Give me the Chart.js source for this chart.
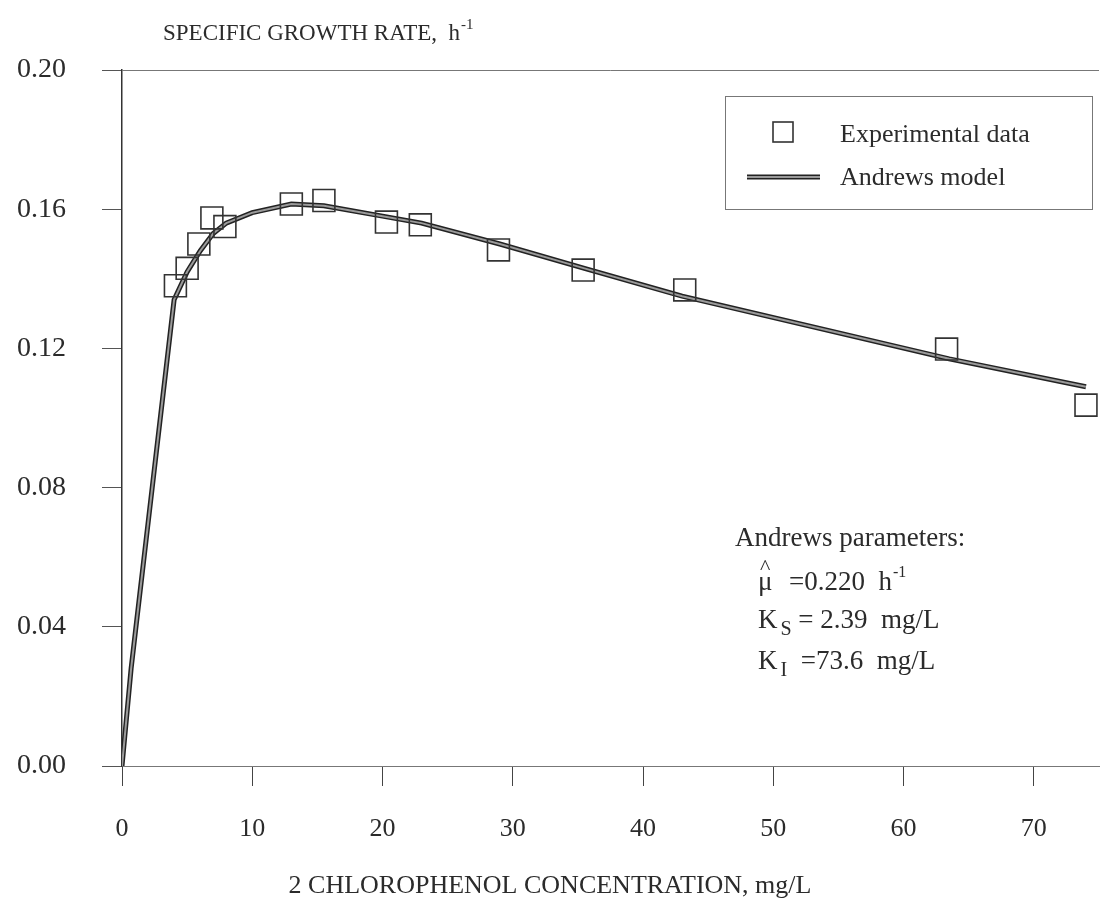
<!DOCTYPE html>
<html>
<head>
<meta charset="utf-8">
<title>Specific growth rate vs 2-chlorophenol</title>
<script src="https://cdn.jsdelivr.net/npm/chart.js@4"></script>
<style>
  html, body { margin: 0; padding: 0; background: #fff; overflow: hidden; }
  #wrap { width: 1101px; height: 908px; position: relative; }
  canvas { display: block; }
</style>
</head>
<body>
<div id="wrap"><canvas id="chart"></canvas></div>
<script>
// Experimental points
const expConc = [4.1, 5.0, 5.9, 6.9, 7.9, 13.0, 15.5, 20.3, 22.9, 28.9, 35.4, 43.2, 63.3, 74.0];
const expRate = [0.138, 0.143, 0.150, 0.1575, 0.155, 0.1615, 0.1625, 0.1563, 0.1555, 0.1483, 0.1425, 0.1368, 0.1198, 0.1037];

// Andrews model curve
const modelConc = [0, 0.7, 4.0, 5.0, 6.0, 7.0, 8.0, 10, 13, 15.5, 20, 23, 29, 35.5, 43, 63.5, 74];
const modelRate = [0, 0.028, 0.134, 0.142, 0.148, 0.153, 0.156, 0.159, 0.1615, 0.161, 0.158, 0.156, 0.150, 0.143, 0.135, 0.117, 0.109];

const xTicks = [0, 10, 20, 30, 40, 50, 60, 70];
const yTicks = [0, 0.04, 0.08, 0.12, 0.16, 0.20];

const paramLines = [
  { base: 'μ', sub: '', rest: '  =0.220  h', sup: '-1' },
  { base: 'K', sub: 'S', rest: ' = 2.39  mg/L', sup: '' },
  { base: 'K', sub: 'I', rest: '  =73.6  mg/L', sup: '' }
];

const SERIF = '"Liberation Serif", "DejaVu Serif", serif';
const INK = '#2b2b2b';

const toPoints = (xs, ys) => xs.map((x, i) => ({ x, y: ys[i] }));

// Draws the axis titles, legend box and parameter text
const annotations = {
  id: 'annotations',
  afterDraw(chart) {
    const ctx = chart.ctx;
    ctx.save();
    ctx.fillStyle = INK;
    ctx.textBaseline = 'alphabetic';

    // y axis title above the plot
    ctx.font = '23px ' + SERIF;
    ctx.textAlign = 'left';
    const title = 'SPECIFIC GROWTH RATE,  h';
    ctx.fillText(title, 163, 40);
    const tw = ctx.measureText(title).width;
    ctx.font = '15px ' + SERIF;
    ctx.fillText('-1', 163 + tw + 1, 29);

    // x axis title, centred on the page
    ctx.font = '26px ' + SERIF;
    ctx.textAlign = 'center';
    ctx.fillText('2 CHLOROPHENOL CONCENTRATION, mg/L', 550, 893);
    ctx.textAlign = 'left';

    // legend box
    const bx = 725, by = 96, bw = 367, bh = 113;
    ctx.strokeStyle = '#777';
    ctx.lineWidth = 1;
    ctx.strokeRect(bx + 0.5, by + 0.5, bw, bh);

    const sq = chart.data.datasets[0];
    ctx.strokeStyle = sq.pointBorderColor;
    ctx.lineWidth = sq.pointBorderWidth;
    ctx.strokeRect(773, 122, 20, 20);

    const m1 = chart.data.datasets[1], m2 = chart.data.datasets[2];
    ctx.lineCap = 'butt';
    ctx.beginPath(); ctx.moveTo(747, 177); ctx.lineTo(820, 177);
    ctx.strokeStyle = m1.borderColor; ctx.lineWidth = m1.borderWidth; ctx.stroke();
    ctx.beginPath(); ctx.moveTo(747, 177); ctx.lineTo(820, 177);
    ctx.strokeStyle = m2.borderColor; ctx.lineWidth = m2.borderWidth; ctx.stroke();

    ctx.font = '26px ' + SERIF;
    ctx.fillStyle = INK;
    ctx.fillText(sq.label, 840, 142);
    ctx.fillText(m1.label, 840, 185);

    // Andrews parameters block
    ctx.font = '27px ' + SERIF;
    ctx.fillText('Andrews parameters:', 735, 546);
    let y = 590;
    paramLines.forEach((p, i) => {
      let x = 758;
      ctx.font = '27px ' + SERIF;
      ctx.fillText(p.base, x, y);
      const bw2 = ctx.measureText(p.base).width;
      if (i === 0) {
        // hat over mu
        ctx.font = '22px ' + SERIF;
        ctx.fillText('^', x + 2, y - 16);
      }
      x += bw2 + 3;
      if (p.sub) {
        ctx.font = '20px ' + SERIF;
        ctx.fillText(p.sub, x, y + 7);
        x += ctx.measureText(p.sub).width;
      }
      ctx.font = '27px ' + SERIF;
      ctx.fillText(p.rest, x, y);
      x += ctx.measureText(p.rest).width;
      if (p.sup) {
        ctx.font = '16px ' + SERIF;
        ctx.fillText(p.sup, x + 1, y - 13);
      }
      y += i === 0 ? 38 : 41;
    });

    ctx.restore();
  }
};

const chart = new Chart(document.getElementById('chart'), {
  type: 'scatter',
  data: {
    datasets: [
      {
        label: 'Experimental data',
        data: toPoints(expConc, expRate),
        pointStyle: 'rect',
        pointRadius: 15.5,
        pointHoverRadius: 15.5,
        pointBorderColor: '#333',
        pointBorderWidth: 1.6,
        pointBackgroundColor: 'rgba(0,0,0,0)',
        showLine: false,
        clip: false,
        order: 1
      },
      {
        label: 'Andrews model',
        data: toPoints(modelConc, modelRate),
        showLine: true,
        borderColor: '#222',
        borderWidth: 5,
        pointRadius: 0,
        tension: 0,
        order: 3
      },
      {
        label: 'Andrews model (shade)',
        data: toPoints(modelConc, modelRate),
        showLine: true,
        borderColor: '#9a9a9a',
        borderWidth: 2,
        pointRadius: 0,
        tension: 0,
        order: 2
      }
    ]
  },
  options: {
    responsive: true,
    maintainAspectRatio: false,
    animation: false,
    layout: { autoPadding: false, padding: { top: 70, right: 2, left: 0, bottom: 0 } },
    plugins: {
      legend: { display: false },
      tooltip: { enabled: false }
    },
    scales: {
      x: {
        type: 'linear',
        min: 0,
        max: 75,
        afterFit: s => { s.height = 142; s.paddingLeft = 0; s.paddingRight = 0; },
        afterBuildTicks: s => { s.ticks = xTicks.map(v => ({ value: v })); },
        ticks: {
          color: INK,
          font: { family: SERIF, size: 26 },
          padding: 28
        },
        grid: {
          drawOnChartArea: false,
          tickLength: 20,
          tickColor: '#444',
          tickWidth: 1
        },
        border: { color: '#777', width: 1 }
      },
      y: {
        type: 'linear',
        min: 0,
        max: 0.2,
        afterFit: s => { s.width = 122; s.paddingTop = 0; s.paddingBottom = 0; },
        afterBuildTicks: s => { s.ticks = yTicks.map(v => ({ value: v })); },
        ticks: {
          color: INK,
          font: { family: SERIF, size: 28 },
          padding: 36,
          callback: v => v.toFixed(2)
        },
        grid: {
          drawOnChartArea: true,
          color: c => (c.tick && Math.abs(c.tick.value - 0.2) < 1e-9) ? '#777' : 'rgba(0,0,0,0)',
          tickLength: 20,
          tickColor: '#555',
          tickWidth: 1
        },
        border: { color: '#333', width: 1.5 }
      }
    }
  },
  plugins: [annotations]
});
</script>
</body>
</html>
